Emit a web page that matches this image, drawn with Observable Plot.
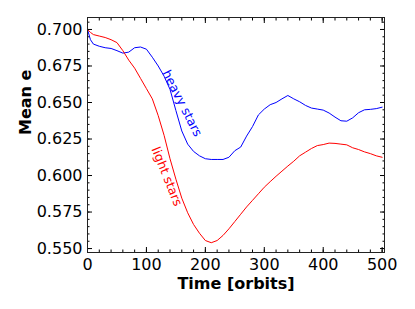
<!DOCTYPE html>
<html><head><meta charset="utf-8">
<script src="https://cdn.jsdelivr.net/npm/d3@7"></script>
<script src="https://cdn.jsdelivr.net/npm/@observablehq/plot@0.6"></script>
<style>
body{margin:0;background:#fff;}
</style></head><body><div id="chart"></div>
<script>
const time = [0,5,10,20,30,40,50,60,70,80,90,100,110,120,130,140,150,160,170,180,190,200,210,220,230,240,250,260,270,280,290,300,310,320,330,340,350,360,370,380,390,400,410,420,430,440,450,460,470,480,490,500];
const heavy = [0.700,0.693,0.690,0.6885,0.6875,0.687,0.6855,0.6838,0.6845,0.6875,0.688,0.6865,0.681,0.675,0.668,0.659,0.6445,0.6305,0.6215,0.6165,0.6135,0.6115,0.611,0.611,0.611,0.6125,0.617,0.6195,0.627,0.6335,0.6415,0.6455,0.6485,0.650,0.6525,0.6548,0.6525,0.6505,0.648,0.6462,0.6455,0.6448,0.6428,0.640,0.6375,0.6372,0.6395,0.643,0.645,0.6453,0.6458,0.6468];
const light = [0.700,0.698,0.6965,0.6955,0.6945,0.693,0.691,0.6855,0.679,0.6735,0.6665,0.6595,0.6525,0.641,0.6275,0.6115,0.5975,0.5845,0.5745,0.5665,0.5605,0.5555,0.554,0.5555,0.559,0.5635,0.5685,0.5735,0.5785,0.583,0.5875,0.592,0.5958,0.5995,0.603,0.6065,0.6098,0.6135,0.616,0.6185,0.6205,0.6212,0.6222,0.622,0.6215,0.621,0.619,0.6178,0.6162,0.615,0.6135,0.6125];
const xTicks = [0,100,200,300,400,500];
const yTicks = [0.550,0.575,0.600,0.625,0.650,0.675,0.700];
const xMinor = d3.range(0, 501, 20);
const yMinor = d3.range(110, 142).map(i => +(i * 0.005).toFixed(3));
const seriesLabels = ["heavy stars", "light stars"];
const labelT = [160.5, 134.5];
const labelE = [0.6494, 0.5993];
const labelAngle = [63, 68];
const seriesColors = ["#0000ff", "#ff0000"];
const xTitle = "Time [orbits]";
const yTitle = "Mean e";

const rows = time.map((t, i) => ({t, heavy: heavy[i], light: light[i]}));
const labels = seriesLabels.map((s, i) => ({s, t: labelT[i], e: labelE[i], a: labelAngle[i], c: seriesColors[i]}));
const blank = () => "";

const chart = Plot.plot({
  width: 415, height: 309,
  marginLeft: 87, marginRight: 31, marginTop: 17, marginBottom: 57,
  style: {fontFamily: "DejaVu Sans", fontSize: "16px", background: "white", color: "black"},
  x: {domain: [0, 504]},
  y: {domain: [0.5473, 0.7082]},
  marks: [
    Plot.axisX({ticks: xMinor, tickSize: -2.5, tickFormat: blank, label: null}),
    Plot.axisX({anchor: "top", ticks: xMinor, tickSize: -2.5, tickFormat: blank, label: null}),
    Plot.axisX({ticks: xTicks, tickSize: -5, tickPadding: 11, tickFormat: d3.format("d"), label: null}),
    Plot.axisX({anchor: "top", ticks: xTicks, tickSize: -5, tickFormat: blank, label: null}),
    Plot.axisY({ticks: yMinor, tickSize: -2.5, tickFormat: blank, label: null}),
    Plot.axisY({anchor: "right", ticks: yMinor, tickSize: -2.5, tickFormat: blank, label: null}),
    Plot.axisY({ticks: yTicks, tickSize: -5, tickPadding: 10, tickFormat: d3.format(".3f"), label: null}),
    Plot.axisY({anchor: "right", ticks: yTicks, tickSize: -5, tickFormat: blank, label: null}),
    Plot.line(rows, {x: "t", y: "heavy", stroke: seriesColors[0], strokeWidth: 1}),
    Plot.line(rows, {x: "t", y: "light", stroke: seriesColors[1], strokeWidth: 1}),
    Plot.text(labels, {x: "t", y: "e", text: "s", rotate: "a", fill: "c", fontSize: 12.5}),
    Plot.text([xTitle], {frameAnchor: "bottom", dy: 36, lineAnchor: "bottom", fontWeight: "bold", fontSize: 16}),
    Plot.text([yTitle], {frameAnchor: "left", dx: -62, rotate: -90, lineAnchor: "middle", fontWeight: "bold", fontSize: 16}),
    Plot.frame({stroke: "#222", strokeWidth: 1})
  ]
});
document.getElementById("chart").appendChild(chart);
</script>
</body></html>
